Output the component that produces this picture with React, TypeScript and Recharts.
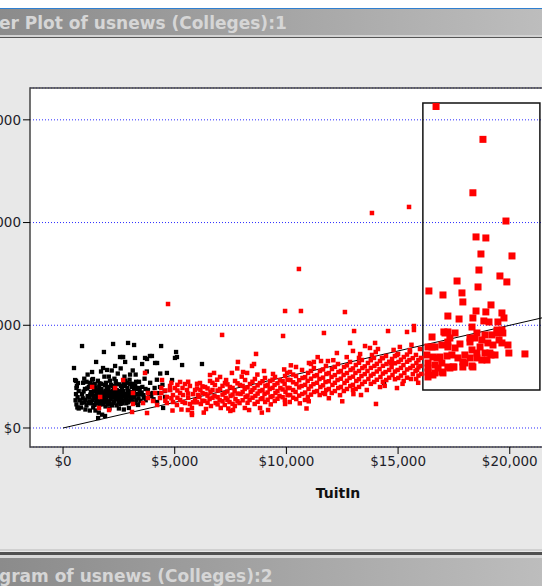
import { ScatterChart, Scatter, XAxis, YAxis, CartesianGrid, ReferenceArea, ReferenceLine } from 'recharts'

// axis setup
const X_TICKS = [0, 5000, 10000, 15000, 20000]
const Y_TICKS = [0, 10000, 20000, 30000]
const X_RANGE: [number, number] = [-1480, 26100]
const Y_RANGE: [number, number] = [-1850, 33100]

// brushed region and fitted line (data units)
const BRUSH_X = [16110, 21350]
const BRUSH_Y = [3700, 31650]
const FIT_X = [0, 26100]
const FIT_Y = [0, 13050]

// public colleges (black)
const PUBLIC_PTS: [number, number][] = [
  [490, 5840], [850, 7980], [2240, 8180], [2910, 8280], [3180, 8080], [4390, 7980], [1830, 7400], [1480, 6430],
  [2550, 6910], [2690, 6910], [2780, 6430], [3220, 6820], [3760, 6720], [3980, 7010], [4210, 6330], [3540, 6230],
  [5060, 7400], [5010, 6820], [5330, 6130], [2330, 6040], [1970, 5650], [580, 4580], [1340, 4770], [4880, 4670],
  [4480, 1950], [3360, 2240], [1570, 970], [1880, 1170], [6220, 6230], [14370, 4380], [5100, 6910], [4120, 6330],
  [3670, 6820], [3890, 7010], [2640, 6910], [1790, 5840], [1300, 5450], [540, 4670], [670, 4380], [4790, 3700],
  [4570, 3020], [4210, 2530], [4340, 3990], [4030, 3410], [4650, 5360], [1750, 1300],
  [600, 2300], [650, 3000], [700, 3600], [620, 4100], [750, 2700], [800, 2000], [850, 3300], [900, 4400],
  [950, 2500], [700, 1900], [980, 3800], [880, 2900], [560, 2700], [580, 3300], [600, 3900], [640, 2000],
  [1050, 2200], [1100, 3100], [1150, 4000], [1200, 2600], [1250, 3500], [1300, 4700], [1350, 2000], [1400, 2900],
  [1450, 3900], [1100, 5200], [1200, 1700], [1320, 3300], [1480, 2400], [1050, 4500],
  [1550, 3000], [1600, 3700], [1650, 2300], [1700, 4300], [1750, 2700], [1800, 3400], [1850, 5000], [1900, 2100],
  [1950, 3900], [1600, 1500], [1700, 5500], [1820, 2900], [1560, 4600], [1980, 3200], [1680, 3100],
  [2050, 2600], [2100, 3500], [2150, 4200], [2200, 2200], [2250, 3000], [2300, 4800], [2350, 2800], [2400, 3700],
  [2450, 5300], [2080, 1900], [2180, 5600], [2320, 3300], [2480, 2500], [2020, 4000], [2270, 3900],
  [2550, 3100], [2600, 4100], [2650, 2400], [2700, 3600], [2750, 5000], [2800, 2900], [2850, 4400], [2900, 3300],
  [2950, 2700], [2580, 5800], [2720, 1800], [2880, 3900], [2620, 3400], [2980, 4700],
  [3050, 3500], [3100, 2600], [3150, 4300], [3200, 3000], [3250, 5200], [3300, 3800], [3350, 2300], [3400, 4500],
  [3450, 3300], [3120, 5600], [3380, 2900],
  [3550, 4000], [3600, 3200], [3650, 4800], [3700, 2700], [3800, 3700], [3900, 4400], [3950, 3100], [3750, 5500],
  [4100, 3900], [4200, 4700], [4300, 3400], [4450, 4200], [4550, 3600], [4050, 2800], [4350, 5300],
  [1250, 2400], [1380, 3600], [1520, 2700], [1620, 4000], [1730, 3500], [1880, 2500], [1920, 4400], [2030, 3100],
  [2130, 2800], [2230, 3600], [2380, 4300], [2420, 3100], [2530, 2700], [2680, 3100], [2780, 4100], [2830, 2400],
  [2930, 3600], [3020, 3000], [3180, 3700], [3280, 2700], [1420, 4300], [1780, 3000], [2150, 3300], [2550, 3600],
  [2860, 3200], [3080, 4000], [1180, 3000], [1330, 2700], [1640, 3400], [2000, 2300], [2280, 2600], [2600, 2900],
  [2720, 4300], [3230, 4100], [3430, 3700], [1900, 3600], [2400, 2200], [1500, 3300], [2100, 4600], [2900, 2500],
  [830, 2450], [920, 3550], [1010, 2750], [1080, 3850], [1130, 2450], [1220, 3250], [1270, 4250], [1360, 3100],
  [1410, 2250], [1460, 3650], [1540, 2400], [1590, 3250], [1630, 4350], [1690, 2600], [1720, 3800], [1780, 2300],
  [1830, 3150], [1870, 4200], [1930, 2800], [1960, 3450], [2040, 3750], [2090, 2350], [2160, 3050], [2210, 4100],
  [2260, 2450], [2310, 3550], [2360, 4550], [2440, 2850], [2470, 3400], [2520, 4250], [2570, 2350], [2640, 3750],
  [2690, 2700], [2740, 3300], [2790, 4600], [2840, 2700], [2890, 3550], [2960, 3100], [3000, 4300], [3060, 2800],
  [3140, 3200], [3210, 2450], [3270, 4500], [3320, 3300], [3400, 3900], [3470, 2650], [3520, 3450], [3620, 2950],
  [3690, 3800], [3850, 3350], [1000, 1800], [1450, 1700], [2500, 1900], [2950, 1950], [3000, 5200], [2050, 5000],
  [1200, 4400], [950, 4800],
]

// private colleges (red, small)
const PRIVATE_PTS: [number, number][] = [
  [1300, 3990], [1660, 3020], [2330, 3890], [2690, 4670], [3670, 5360], [3130, 3410], [2060, 1750], [1610, 1950],
  [3090, 1560], [3760, 1460], [3800, 3410], [4430, 4670],
  [4790, 4090], [5010, 3890], [5240, 4480], [5460, 4280], [5680, 4090], [5910, 3700], [5550, 3700], [5240, 3410],
  [4920, 3210], [4650, 3020], [4340, 2920], [4030, 2630], [3800, 2920], [4210, 2240], [4650, 2430], [4920, 2530],
  [5240, 2730], [5460, 2430], [5680, 2340], [5910, 2730], [5770, 1460], [5770, 1950], [5100, 2240], [4790, 3700],
  [5370, 3210], [6040, 3210], [4120, 3410], [3580, 2430], [3130, 2340], [4700, 12070], [5590, 1750], [5770, 1270],
  [4400, 3400], [4400, 3900], [4580, 2650], [4580, 3650], [4850, 2900], [4850, 4400], [5120, 2950], [5120, 3650],
  [5120, 4200], [5350, 2550], [5350, 3900], [5600, 2950], [5600, 3350], [5600, 4500], [5820, 2500], [5820, 3300],
  [6000, 2500], [6000, 3850], [6000, 4300],
  [6580, 5160], [6760, 5360], [7030, 4970], [7300, 4670], [7560, 5360], [7830, 6430], [8060, 5450], [8240, 5360],
  [8460, 6040], [8550, 6230], [8640, 7210], [9000, 5550], [9400, 5260], [10030, 5360], [10430, 5940], [11010, 6330],
  [7120, 9060], [9850, 8960], [10560, 15480], [9940, 11390], [10650, 11390],
  [6130, 4380], [6150, 3700], [6100, 3020], [6170, 2340], [6360, 3990], [6380, 3310], [6330, 2630], [6400, 1850],
  [6580, 4580], [6600, 3510], [6560, 2820], [6620, 2140], [6800, 4190], [6780, 3120], [6830, 2430],
  [7030, 3800], [7010, 2730], [7060, 1950], [7250, 4380], [7230, 3410], [7280, 2920], [7240, 2240],
  [7470, 3990], [7500, 3120], [7450, 2530], [7490, 1660], [7700, 4580], [7680, 3600], [7720, 2820], [7690, 2140],
  [7920, 4190], [7950, 3310], [7900, 2430], [8150, 4670], [8130, 3800], [8170, 3020], [8140, 1950],
  [8370, 4280], [8400, 3510], [8350, 2730], [8590, 4770], [8570, 3890], [8610, 3120], [8580, 2340],
  [8820, 4380], [8800, 3600], [8850, 2820], [9040, 4870], [9060, 4090], [9020, 3310], [9050, 2530],
  [9270, 4580], [9250, 3800], [9290, 3020], [9490, 4970], [9470, 4190], [9510, 3410], [9480, 2630],
  [9710, 4670], [9730, 3890], [9690, 3120], [9940, 5060], [9920, 4280], [9960, 3510], [9930, 2730],
  [7610, 1750], [8330, 1750], [8820, 1950], [9180, 1750], [9940, 2340],
  [6240, 2650], [6240, 3400], [6240, 4050], [6470, 2450], [6470, 3150], [6470, 3850], [6690, 2950], [6690, 3700],
  [6690, 4400], [6920, 2300], [6920, 3000], [6920, 3650], [7140, 2600], [7140, 3250], [7140, 4100], [7360, 2750],
  [7360, 3550], [7360, 4250], [7590, 2350], [7590, 3250], [7590, 3900], [7810, 2600], [7810, 3350], [7810, 4350],
  [8040, 2700], [8040, 3500], [8040, 4100], [8260, 2450], [8260, 3150], [8260, 3950], [8480, 2950], [8480, 3700],
  [8480, 4500], [8710, 2550], [8710, 3350], [8710, 4150], [8930, 2900], [8930, 3700], [8930, 4550], [9160, 2750],
  [9160, 3450], [9160, 4200], [9380, 3100], [9380, 3900], [9380, 4700], [9600, 2850], [9600, 3600], [9600, 4350],
  [9830, 3000], [9830, 3750], [9830, 4550],
  [12620, 11290], [11680, 9250], [13030, 9440], [14550, 9440], [15400, 9350], [15710, 9930], [15710, 9540],
  [12850, 8280], [12260, 7300], [12980, 7500], [13520, 7980], [13970, 8280], [13740, 7790], [14100, 7690],
  [15080, 7890], [14950, 7110], [15530, 7590], [15980, 7690], [11230, 6430], [11550, 6520], [11860, 6520],
  [11100, 6230], [13250, 6820], [13830, 7110], [14280, 6820], [14680, 6330], [13830, 20930], [15490, 21520],
  [14950, 3890], [14190, 3990], [13340, 3210], [12980, 3700], [14010, 2340], [11730, 3310], [15580, 4770],
  [15850, 5650], [10830, 2730],
  [10160, 5450], [10180, 4670], [10140, 3890], [10170, 3210], [10150, 2530],
  [10430, 5060], [10450, 4280], [10410, 3510], [10440, 2820],
  [10700, 5650], [10720, 4870], [10680, 4090], [10710, 3310],
  [10970, 5360], [10950, 4580], [10990, 3800], [10960, 3020],
  [11230, 5840], [11250, 5060], [11210, 4280], [11240, 3510],
  [11500, 5550], [11480, 4770], [11520, 3990], [11490, 3210],
  [11770, 6040], [11790, 5260], [11750, 4480], [11780, 3700],
  [12040, 5740], [12020, 4970], [12060, 4190], [12030, 3410],
  [12310, 6230], [12330, 5450], [12290, 4670], [12320, 3890],
  [12580, 5940], [12560, 5160], [12600, 4380], [12570, 3600],
  [12850, 6430], [12870, 5650], [12830, 4870], [12860, 4090],
  [13110, 6130], [13090, 5360], [13130, 4580], [13100, 3800],
  [13380, 6620], [13400, 5840], [13360, 5060], [13390, 4280],
  [13650, 6330], [13630, 5550], [13670, 4770],
  [13920, 6820], [13940, 6040], [13900, 5260], [13930, 4480],
  [14190, 6520], [14170, 5740], [14210, 4970],
  [14460, 7010], [14480, 6230], [14440, 5450], [14470, 4670],
  [14730, 6720], [14710, 5940], [14750, 5160],
  [15000, 7210], [15020, 6430], [14980, 5650], [15010, 4870],
  [15260, 6910], [15240, 6130], [15280, 5360], [15250, 4580],
  [15530, 7400], [15510, 6620], [15550, 5840],
  [15800, 7110], [15820, 6330], [15780, 5550], [15810, 4770],
  [16020, 6820], [16000, 6040], [16040, 5260],
  [10050, 3200], [10050, 3900], [10050, 4700], [10300, 2950], [10300, 3700], [10300, 4450], [10300, 5200],
  [10570, 3150], [10570, 3950], [10570, 4650], [10840, 3450], [10840, 4200], [10840, 4950], [11100, 3250],
  [11100, 4050], [11100, 4800], [11100, 5550], [11370, 3600], [11370, 4400], [11370, 5150], [11640, 3400],
  [11640, 4150], [11640, 4900], [11640, 5700], [11900, 3800], [11900, 4550], [11900, 5350], [12170, 3600],
  [12170, 4400], [12170, 5150], [12170, 5950], [12440, 4000], [12440, 4800], [12440, 5550], [12710, 3800],
  [12710, 4600], [12710, 5350], [12710, 6100], [12980, 4200], [12980, 5000], [12980, 5800], [13250, 4000],
  [13250, 4750], [13250, 5550], [13250, 6350], [13510, 4500], [13510, 5250], [13510, 6000], [13780, 4300],
  [13780, 5100], [13780, 5850], [13780, 6600], [14050, 4700], [14050, 5500], [14050, 6250], [14320, 4500],
  [14320, 5300], [14320, 6050], [14320, 6800], [14600, 4900], [14600, 5650], [14600, 6450], [14860, 4750],
  [14860, 5500], [14860, 6300], [14860, 7000], [15130, 5100], [15130, 5850], [15130, 6650], [15400, 4900],
  [15400, 5700], [15400, 6450], [15400, 7150], [15660, 5250], [15660, 6050], [15660, 6800], [15910, 5100],
  [15910, 5900], [15910, 6600],
  [6900, 4700], [7400, 1900], [8000, 5000], [8700, 5200], [9300, 2300], [9900, 5700], [10200, 6100], [10600, 2400],
  [11000, 2600], [11400, 6900], [11900, 2900], [12100, 6600], [12400, 3200], [12700, 6900], [13000, 3300],
  [13300, 7200], [13600, 3700], [14000, 7400], [14400, 4100], [14800, 7600], [15200, 4300], [15600, 8100],
  [15900, 4400], [6300, 1500], [8900, 1500], [10900, 1900], [12500, 2600], [5300, 1800], [4900, 1700], [7800, 5800],
]

// brushed colleges (red, enlarged)
const BRUSHED_PTS: [number, number][] = [
  [16700, 31300], [18800, 28100], [18350, 22900], [19830, 20150], [18490, 18600], [18930, 18500], [18710, 16940],
  [20100, 16750], [18620, 15380], [19560, 14800], [17640, 14310], [19870, 14220], [18580, 13730], [16380, 13340],
  [17010, 12950], [17860, 13150], [17900, 12270], [19160, 11980], [17230, 10900], [18490, 11390], [18930, 11300],
  [19650, 11200], [17730, 10610], [18350, 10710], [18840, 10420], [19070, 10320], [19740, 10710], [18310, 9830],
  [19470, 10320], [19430, 9540], [19650, 9540], [17050, 9350], [17230, 9350], [16520, 8860], [17230, 8370],
  [18220, 8760], [18440, 8760], [18890, 9060], [19200, 9060], [19430, 9250], [19690, 9250], [18670, 7890],
  [19020, 8280], [19250, 8080], [19650, 8280], [19920, 8080], [18310, 7600], [18530, 7300], [18890, 7300],
  [19340, 7110], [19960, 7300], [20680, 7210], [16340, 7890], [16650, 7890], [16960, 8080], [17230, 7890],
  [17550, 7790], [16290, 7110], [16560, 6910], [16870, 6910], [17190, 7010], [17410, 7110], [16340, 6330],
  [16650, 6130], [16960, 6330], [17230, 5940], [16340, 5450], [16650, 5360], [16960, 5450], [17500, 5940],
  [17990, 6330], [18310, 6040], [18530, 6820], [18980, 6620], [19160, 7110], [16340, 4970], [16560, 5160],
  [18350, 5940], [17900, 6430], [17100, 9250], [17550, 9250], [18530, 9250], [16520, 7890], [17320, 8760],
  [18220, 8370], [19110, 7300], [16740, 6820], [17460, 5940], [17900, 5940], [17010, 5360], [17320, 5840],
  [16340, 5840], [16790, 5840], [17680, 6820], [18750, 8570], [19520, 8570], [17990, 7110], [18220, 6820],
  [18750, 6620], [17770, 8180],
]

const toXY = (pts: [number, number][]) => pts.map(([x, y]) => ({ x, y }))
const money = (v: number) => '$' + v.toLocaleString('en-US')

const square = (size: number, color: string) => (p: any) => (
  <rect x={p.cx - size / 2} y={p.cy - size / 2} width={size} height={size} fill={color} />
)

const TICK_STYLE = { fontSize: 13.5, fill: '#1e1e2a', fontFamily: 'DejaVu Sans' }

function TitleBar({ top, text, textTop }: { top: number; text: string; textTop: number }) {
  return (
    <div
      style={{
        position: 'absolute', left: 0, top, width: 542, height: 28,
        background: 'linear-gradient(to right, #8b8b8b, #bdbdbd)',
      }}
    >
      <div
        style={{
          position: 'absolute', left: -1, top: textTop, lineHeight: '26px', whiteSpace: 'nowrap',
          fontFamily: 'DejaVu Sans', fontWeight: 'bold', fontSize: 17, color: '#d6d6d6',
        }}
      >
        {text}
      </div>
    </div>
  )
}

export default function App() {
  return (
    <div style={{ position: 'fixed', left: 0, top: 0, width: 542, height: 586, overflow: 'hidden', background: '#e8e8e8' }}>
      <div style={{ position: 'absolute', left: 0, top: 0, width: 542, height: 8, background: '#fff' }} />
      <div style={{ position: 'absolute', left: 0, top: 8, width: 542, height: 1, background: '#2f7fd0' }} />
      <TitleBar top={9} text="er Plot of usnews (Colleges):1" textTop={1} />
      <div style={{ position: 'absolute', left: 0, top: 35, width: 542, height: 2, background: '#d2d2d2' }} />
      <div style={{ position: 'absolute', left: 0, top: 37, width: 542, height: 1, background: '#555' }} />

      <div style={{ position: 'absolute', left: -50, top: 40 }}>
        <ScatterChart width={706} height={480} margin={{ top: 48, right: 10, left: 0, bottom: 18 }}>
          <CartesianGrid vertical={false} fill="#fff" stroke="#2b2bff" strokeDasharray="1 2" strokeWidth={1} />
          <XAxis
            type="number" dataKey="x" domain={X_RANGE} ticks={X_TICKS} allowDataOverflow
            tickFormatter={money} tick={TICK_STYLE} tickSize={7} axisLine={false}
            tickLine={{ stroke: '#000' }} height={55}
            label={{ value: 'TuitIn', position: 'insideBottom', offset: 4, fontWeight: 'bold', fontSize: 14, fill: '#111', fontFamily: 'DejaVu Sans' }}
          />
          <YAxis
            type="number" dataKey="y" domain={Y_RANGE} ticks={Y_TICKS} allowDataOverflow
            tickFormatter={money} tick={TICK_STYLE} tickSize={7} axisLine={false}
            tickLine={{ stroke: '#000' }} width={80}
          />
          <Scatter data={toXY(PUBLIC_PTS)} shape={square(4.3, '#000')} isAnimationActive={false} />
          <Scatter data={toXY(PRIVATE_PTS)} shape={square(4.5, '#f00')} isAnimationActive={false} />
          <Scatter data={toXY(BRUSHED_PTS)} shape={square(7, '#f00')} isAnimationActive={false} />
          <ReferenceLine
            segment={[{ x: FIT_X[0], y: FIT_Y[0] }, { x: FIT_X[1], y: FIT_Y[1] }]}
            stroke="#000" strokeWidth={1}
          />
          <ReferenceArea x1={BRUSH_X[0]} x2={BRUSH_X[1]} y1={BRUSH_Y[0]} y2={BRUSH_Y[1]} fill="none" stroke="#111" strokeWidth={1.5} />
          <ReferenceArea x1={X_RANGE[0]} x2={X_RANGE[1]} y1={Y_RANGE[0]} y2={Y_RANGE[1]} fill="none" stroke="#444" strokeWidth={1.5} />
        </ScatterChart>
      </div>

      <div style={{ position: 'absolute', left: 0, top: 549, width: 542, height: 2, background: '#d0d0d0' }} />
      <div style={{ position: 'absolute', left: 0, top: 552, width: 542, height: 3, background: '#505050' }} />
      <div style={{ position: 'absolute', left: 0, top: 555, width: 542, height: 3, background: '#d8d8d8' }} />
      <TitleBar top={558} text="gram of usnews (Colleges):2" textTop={5} />
    </div>
  )
}
